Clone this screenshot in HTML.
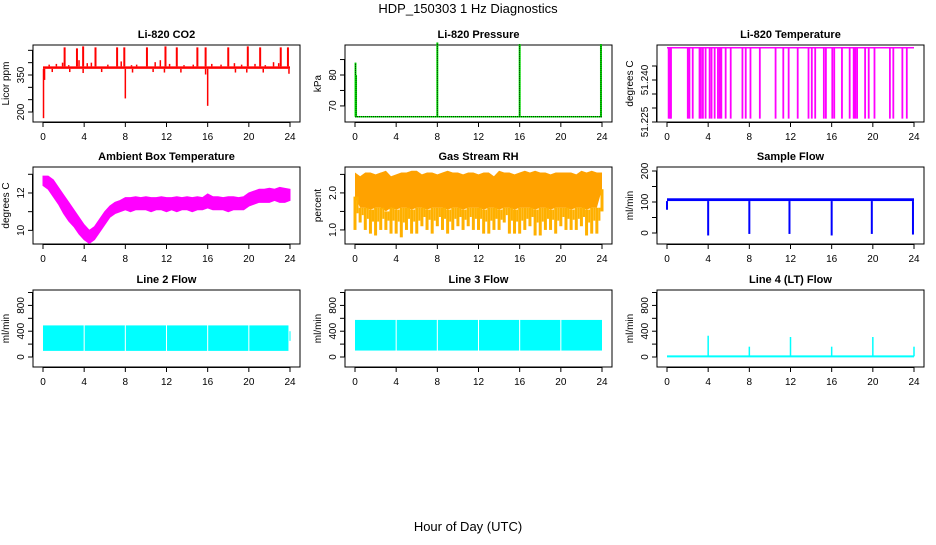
<!DOCTYPE html>
<html><head><meta charset="utf-8">
<style>
html,body{margin:0;padding:0;background:#fff;}
svg text{font-family:"Liberation Sans",Arial,sans-serif;}
</style></head>
<body>
<svg id="c" width="936" height="540" viewBox="0 0 936 540" xmlns="http://www.w3.org/2000/svg">
<defs>
<pattern id="rhpat" width="2" height="2" patternUnits="userSpaceOnUse">
<rect width="2" height="2" fill="#ffd800"/>
<rect width="1" height="1" fill="#ff5a00"/>
</pattern>
</defs>
<text x="468" y="13" text-anchor="middle" font-size="13">HDP_150303  1 Hz Diagnostics</text>
<text x="468" y="531" text-anchor="middle" font-size="13">Hour of Day (UTC)</text>
</svg>
<script>
// ---- data ----
const xTicks=[0,4,8,12,16,20,24];
// CO2
const co2Base=[375,385];
const co2UpTimes=[2.1,3.3,3.9,5.1,7.2,7.9,10.1,11.9,13.0,15.0,15.8,18.0,19.9,21.1,23.1,23.8];
const co2UpVals=[462,458,466,462,462,462,462,466,462,462,462,462,466,462,462,462];
const co2SmallTimes=[0.6,1.3,1.9,2.5,3.5,4.3,4.7,6.3,7.6,8.6,9.1,10.9,11.4,12.3,13.7,14.6,16.4,17.3,18.6,19.3,20.6,21.6,22.4,22.9];
const co2SmallVals=[392,395,400,390,410,398,400,392,405,390,392,402,410,395,390,392,395,392,398,392,395,390,402,398];
const co2DownTimes=[0.05,0.15,8.0,16.0,0.9,2.6,3.9,5.7,8.7,10.7,11.8,13.4,15.8,18.7,19.8,21.4,23.9];
const co2DownVals=[175,330,255,225,362,362,358,362,360,362,360,360,352,360,360,360,355];
const co2Ticks=[200,250,300,350,400,450];
const co2Labels=["200","","","350","",""];
// Pressure
const presBase=66.5;
const presSpikeTimes=[0.05,0.1,8.0,16.0,23.9];
const presSpikeVals=[84,80,90.5,90,90];
const presTicks=[70,75,80,85];
const presLabels=["70","","80",""];
// Li-820 temperature
const tempHigh=51.2515;
const tempLow=51.2262;
const tempDipTimes=[0.16,0.25,0.33,0.39,2.02,2.18,2.5,3.16,3.3,3.49,3.75,4.14,4.33,4.63,4.95,5.11,5.28,5.7,6.19,7.33,7.65,8.11,9.02,10.55,11.3,11.82,12.7,13.75,14.07,14.4,15.24,15.44,16.06,16.25,17.0,17.75,18.14,18.3,18.47,19.25,19.6,20.16,21.66,21.99,22.87,23.3];
const tempTicks=[51.225,51.23,51.235,51.24,51.245];
const tempLabels=["51.225","","","51.240",""];
// Ambient box temperature (every 0.5 h)
const ambHi=[12.9,12.9,12.7,12.3,11.9,11.5,11.1,10.7,10.3,10.0,
10.2,10.6,11.0,11.3,11.5,11.6,11.75,11.75,11.8,11.75,
11.8,11.75,11.75,11.8,11.75,11.75,11.8,11.75,11.8,11.75,
11.8,11.75,11.95,11.8,11.8,11.75,11.8,11.8,11.75,11.8,
12.0,12.1,12.2,12.2,12.25,12.2,12.3,12.25,12.2];
const ambLo=[12.4,12.2,11.8,11.4,10.9,10.5,10.2,9.8,9.5,9.3,
9.5,9.9,10.3,10.7,10.9,11.0,11.1,11.0,11.1,11.1,
11.1,11.0,11.1,11.1,11.0,11.1,11.0,11.1,11.1,11.0,
11.1,11.1,11.2,11.1,11.1,11.1,11.0,11.1,11.1,11.1,
11.3,11.4,11.5,11.5,11.5,11.6,11.5,11.5,11.6];
const ambTicks=[10,11,12,13];
const ambLabels=["10","","12",""];
// Gas stream RH (every 0.5 h)
const rhHi=[2.55,2.45,2.55,2.55,2.5,2.55,2.6,2.45,2.5,2.55,
2.55,2.6,2.6,2.5,2.55,2.55,2.5,2.55,2.6,2.55,
2.55,2.5,2.55,2.55,2.5,2.55,2.55,2.45,2.6,2.55,
2.55,2.5,2.55,2.6,2.55,2.6,2.55,2.55,2.5,2.55,
2.55,2.55,2.55,2.5,2.6,2.55,2.6,2.55,2.55];
const rhCore=[1.9,1.6,1.6,1.55,1.6,1.6,1.5,1.6,1.55,1.6,
1.6,1.55,1.6,1.6,1.55,1.6,1.6,1.6,1.55,1.6,
1.6,1.55,1.6,1.6,1.6,1.55,1.6,1.6,1.55,1.6,
1.6,1.55,1.6,1.6,1.6,1.55,1.6,1.6,1.55,1.6,
1.6,1.6,1.55,1.6,1.6,1.55,1.6,1.6,2.1];
const rhLo=[1.0,1.2,1.0,0.9,0.85,1.0,1.0,0.9,0.9,0.8,
1.0,0.9,0.9,1.1,1.0,0.9,1.1,1.0,0.9,1.0,
1.1,1.0,1.1,1.0,1.0,0.9,0.9,1.0,1.0,1.2,
0.9,0.9,0.9,1.0,1.1,0.85,0.85,1.0,1.0,0.9,
1.1,1.0,1.0,1.0,1.1,0.85,0.9,0.9,1.5];
const rhTicks=[1.0,1.5,2.0,2.5];
const rhLabels=["1.0","","2.0",""];
// Sample flow
const sfBand=[103,112];
const sfDipTimes=[0.0,4.0,8.0,11.9,16.0,19.9,23.9];
const sfDipVals=[75,-8,-3,-3,-8,-3,-5];
const sfTicks=[0,50,100,150,200];
const sfLabels=["0","","100","","200"];
// Line flows
const l2Band=[95,490];
const l2Starts=[0.0,4.05,8.05,12.05,16.05,20.05];
const l2Ends=[3.95,7.95,11.95,15.95,19.95,23.85];
const l3Band=[100,575];
const l3Starts=[0.0,4.05,8.05,12.05,16.05,20.05];
const l3Ends=[3.95,7.95,11.95,15.95,19.95,24.0];
const l4Base=10;
const l4SpikeTimes=[4.0,8.0,12.0,16.0,20.0,24.0];
const l4SpikeVals=[330,160,310,160,310,160];
const flowTicks=[0,200,400,600,800,1000];
const flowLabels=["0","","400","","800",""];

// ---- layout ----
const svg=document.getElementById('c');
const NS='http://www.w3.org/2000/svg';
const colX=[33,345,657], rowY=[45,167,290], FW=267, FH=77;
function mk(tag,attrs,parent){const e=document.createElementNS(NS,tag);for(const k in attrs)e.setAttribute(k,attrs[k]);(parent||svg).appendChild(e);return e;}
function panel(col,row,title,ylab,ylim,ticks,labels,name){
  const g=mk('g',{});
  
  
  const L=colX[col],T=rowY[row];
  const xs=h=>L+10+h*247/24;
  const ys=v=>T+FH-(v-ylim[0])/(ylim[1]-ylim[0])*FH;
  const t=mk('text',{x:L+FW/2,y:T-7,'text-anchor':'middle','font-size':'11','font-weight':'bold'},g);
  t.textContent=title;
  
  
  const fr=mk('rect',{x:L,y:T,width:FW,height:FH,fill:'none',stroke:'#000','stroke-width':1},g);
  
  
  const yl=mk('text',{transform:`translate(${L-24},${T+FH/2}) rotate(-90)`,'text-anchor':'middle','font-size':'10'},g);
  yl.textContent=ylab;
  
  
  const mg=mk('g',{},g);
  
  
  const ax=mk('g',{},g);
  
  
  mk('line',{x1:xs(0),x2:xs(24),y1:T+FH+0.5,y2:T+FH+0.5,stroke:'#000'},ax);
  xTicks.forEach(h=>{
    mk('line',{x1:xs(h),x2:xs(h),y1:T+FH,y2:T+FH+5,stroke:'#000'},ax);
    const tt=mk('text',{x:xs(h),y:T+FH+18,'text-anchor':'middle','font-size':'10'},ax);
    tt.textContent=h;
    
    
  });
  mk('line',{x1:L-0.5,x2:L-0.5,y1:ys(ticks[0]),y2:ys(ticks[ticks.length-1]),stroke:'#000'},ax);
  ticks.forEach((v,i)=>{
    mk('line',{x1:L-5,x2:L,y1:ys(v),y2:ys(v),stroke:'#000'},ax);
    if(labels[i]){
      const tt=mk('text',{transform:`translate(${L-9},${ys(v)}) rotate(-90)`,'text-anchor':'middle','font-size':'10'},ax);
      tt.textContent=labels[i];
      
      
    }
  });
  return {xs,ys,g:mg};
}
function vline(p,h,v1,v2,col,w){return mk('line',{x1:p.xs(h),x2:p.xs(h),y1:p.ys(v1),y2:p.ys(v2),stroke:col,'stroke-width':w||1.5},p.g);}
function band(p,h1,h2,v1,v2,fill){return mk('rect',{x:p.xs(h1),y:p.ys(v2),width:p.xs(h2)-p.xs(h1),height:p.ys(v1)-p.ys(v2),fill},p.g);}

// CO2
let p=panel(0,0,'Li-820 CO2','Licor ppm',[159.5,471.6],co2Ticks,co2Labels,'co2');
band(p,0,24,co2Base[0],co2Base[1],'#ff0000');
co2UpTimes.forEach((h,i)=>{const e=vline(p,h,co2Base[1],co2UpVals[i],'#ff0000',2);});
co2SmallTimes.forEach((h,i)=>{const e=vline(p,h,co2Base[1],co2SmallVals[i],'#ff0000',1.5);});
co2DownTimes.forEach((h,i)=>{const e=vline(p,h,co2Base[0],co2DownVals[i],'#ff0000',1.5);});

// Pressure
p=panel(1,0,'Li-820 Pressure','kPa',[64.8,89.7],presTicks,presLabels,'pressure');
mk('line',{x1:p.xs(0),x2:p.xs(24),y1:p.ys(presBase),y2:p.ys(presBase),stroke:'#00ee00','stroke-width':1.5},p.g);
mk('line',{x1:p.xs(0),x2:p.xs(24),y1:p.ys(presBase),y2:p.ys(presBase),stroke:'#000','stroke-width':1,'stroke-dasharray':'1,1'},p.g);
presSpikeTimes.forEach((h,i)=>{
  const e=vline(p,h,presBase,presSpikeVals[i],'#00ee00',2);
  
  
  const d=vline(p,h,presBase,presSpikeVals[i],'#000',1);d.setAttribute('stroke-dasharray','1,1');
});

// Li-820 temp
p=panel(2,0,'Li-820 Temperature','degrees C',[51.225,51.2525],tempTicks,tempLabels,'li820-temp');
mk('line',{x1:p.xs(0),x2:p.xs(24),y1:p.ys(tempHigh),y2:p.ys(tempHigh),stroke:'#ff00ff','stroke-width':1.5},p.g);
tempDipTimes.forEach(h=>{const e=vline(p,h,tempHigh,tempLow,'#ff00ff',1.8);});

// Ambient
p=panel(0,1,'Ambient Box Temperature','degrees C',[9.27,13.39],ambTicks,ambLabels,'ambient-temp');
(function(){let pts=[];ambHi.forEach((v,i)=>pts.push(p.xs(i*0.5)+','+p.ys(v)));for(let i=ambLo.length-1;i>=0;i--)pts.push(p.xs(i*0.5)+','+p.ys(ambLo[i]));
const e=mk('polygon',{points:pts.join(' '),fill:'#ff00ff',stroke:'#ff00ff','stroke-width':1},p.g);})();

// RH
p=panel(1,1,'Gas Stream RH','percent',[0.62,2.70],rhTicks,rhLabels,'rh');
(function(){let pts=[];rhHi.forEach((v,i)=>pts.push(p.xs(i*0.5)+','+p.ys(v)));for(let i=rhCore.length-1;i>=0;i--)pts.push(p.xs(i*0.5)+','+p.ys(rhCore[i]));
const e=mk('polygon',{points:pts.join(' '),fill:'#ffa200'},p.g);
rhLo.forEach((v,i)=>{const h=i*0.5;const r=mk('rect',{x:p.xs(h)-1.5,y:p.ys(rhCore[i]),width:3,height:Math.max(0,p.ys(v)-p.ys(rhCore[i])),fill:'#ffb000'},p.g);
 if(i<rhLo.length-1){mk('rect',{x:p.xs(h+0.25)-1,y:p.ys(rhCore[i]),width:2,height:Math.max(0,p.ys((v+rhCore[i])/2)-p.ys(rhCore[i])),fill:'#ffb000'},p.g);}});})();

// Sample flow
p=panel(2,1,'Sample Flow','ml/min',[-35.5,212.9],sfTicks,sfLabels,'sample-flow');
band(p,0,24,sfBand[0],sfBand[1],'#0000ff');
sfDipTimes.forEach((h,i)=>{const e=vline(p,h,sfBand[0],sfDipVals[i],'#0000ff',2);});

// Line 2
p=panel(0,2,'Line 2 Flow','ml/min',[-155,1039],flowTicks,flowLabels,'line2-flow');
l2Starts.forEach((s,i)=>{const e=band(p,s,l2Ends[i],l2Band[0],l2Band[1],'#00ffff');});
band(p,23.95,24.05,250,400,'#00ffff');
// Line 3
p=panel(1,2,'Line 3 Flow','ml/min',[-155,1039],flowTicks,flowLabels,'line3-flow');
l3Starts.forEach((s,i)=>{const e=band(p,s,l3Ends[i],l3Band[0],l3Band[1],'#00ffff');});
// Line 4
p=panel(2,2,'Line 4 (LT) Flow','ml/min',[-155,1039],flowTicks,flowLabels,'line4-flow');
mk('line',{x1:p.xs(0),x2:p.xs(24),y1:p.ys(l4Base),y2:p.ys(l4Base),stroke:'#00ffff','stroke-width':2},p.g);
l4SpikeTimes.forEach((h,i)=>{const e=vline(p,h,l4Base,l4SpikeVals[i],'#00ffff',1.5);});
</script>
</body></html>
